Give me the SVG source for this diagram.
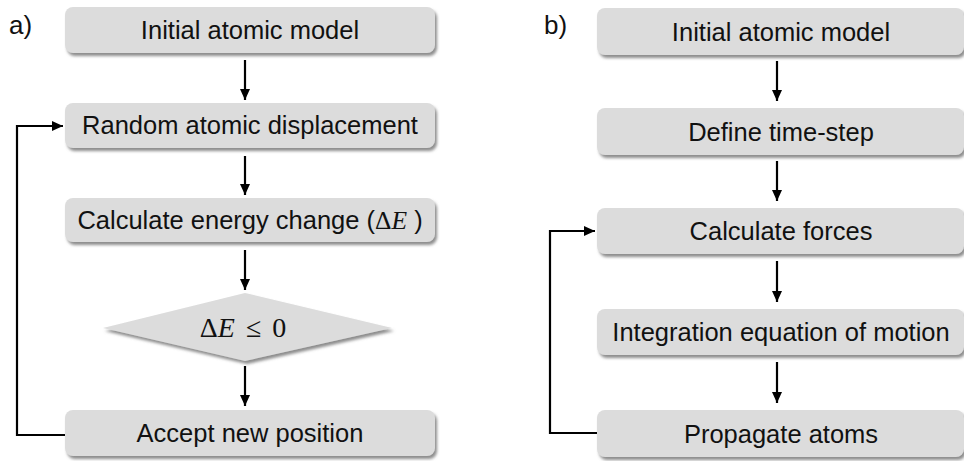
<svg xmlns="http://www.w3.org/2000/svg" width="964" height="461" viewBox="0 0 964 461">
<style>
.box{fill:#dcdcdc;filter:url(#sh)}
.t{font-family:"Liberation Sans",Arial,sans-serif;font-size:25.5px;fill:#111;text-anchor:middle}
.lbl{font-family:"Liberation Sans",Arial,sans-serif;font-size:26px;fill:#111}
.m{font-family:"Liberation Serif","DejaVu Serif",serif}
.c{fill:none;stroke:#000;stroke-width:2.2}
</style>
<defs>
<filter id="sh" x="-5%" y="-20%" width="110%" height="150%">
<feDropShadow dx="2" dy="3" stdDeviation="1.5" flood-color="#707070" flood-opacity="0.8"/>
</filter>
<marker id="ah" markerUnits="userSpaceOnUse" markerWidth="12" markerHeight="10" refX="11" refY="5" orient="auto">
<path d="M0,0 L11,5 L0,10 z" fill="#000"/>
</marker>
</defs>
<rect width="964" height="461" fill="#fff"/>
<text class="lbl" x="9" y="34">a)</text>
<text class="lbl" x="544" y="34">b)</text>
<g id="a1"><rect class="box" x="65" y="7" width="370" height="46" rx="8"/><text class="t" x="250" y="39">Initial atomic model</text></g>
<g id="a2"><rect class="box" x="65" y="103" width="370" height="45" rx="8"/><text class="t" x="250" y="134">Random atomic displacement</text></g>
<g id="a3"><rect class="box" x="65" y="198" width="370" height="44" rx="8"/><text class="t" x="250" y="229">Calculate energy change (<tspan class="m">Δ</tspan><tspan class="m" font-style="italic">E</tspan> )</text></g>
<g id="a4"><polygon class="box" points="245,293 392,328 245,361 103,328"/><text class="t m" x="243" y="337" style="font-size:28px;word-spacing:4px">Δ<tspan font-style="italic">E</tspan> ≤ 0</text></g>
<g id="a5"><rect class="box" x="65" y="410" width="370" height="46" rx="8"/><text class="t" x="250" y="442">Accept new position</text></g>
<g id="b1"><rect class="box" x="597" y="8" width="367" height="47" rx="8"/><text class="t" x="781" y="41">Initial atomic model</text></g>
<g id="b2"><rect class="box" x="597" y="108" width="367" height="47" rx="8"/><text class="t" x="781" y="141">Define time-step</text></g>
<g id="b3"><rect class="box" x="597" y="208" width="367" height="46" rx="8"/><text class="t" x="781" y="240">Calculate forces</text></g>
<g id="b4"><rect class="box" x="597" y="309" width="367" height="46" rx="8"/><text class="t" x="781" y="341">Integration equation of motion</text></g>
<g id="b5"><rect class="box" x="597" y="410" width="367" height="47" rx="8"/><text class="t" x="781" y="443">Propagate atoms</text></g>
<g id="connectors">
<line class="c" x1="245" y1="60" x2="245" y2="100" marker-end="url(#ah)"/>
<line class="c" x1="245" y1="156" x2="245" y2="195" marker-end="url(#ah)"/>
<line class="c" x1="245" y1="250" x2="245" y2="290" marker-end="url(#ah)"/>
<line class="c" x1="245" y1="366" x2="245" y2="406" marker-end="url(#ah)"/>
<polyline class="c" points="65,435 17,435 17,126 63,126" marker-end="url(#ah)"/>
<line class="c" x1="777" y1="61" x2="777" y2="101" marker-end="url(#ah)"/>
<line class="c" x1="777" y1="161" x2="777" y2="201" marker-end="url(#ah)"/>
<line class="c" x1="777" y1="261" x2="777" y2="302" marker-end="url(#ah)"/>
<line class="c" x1="777" y1="362" x2="777" y2="403" marker-end="url(#ah)"/>
<polyline class="c" points="597,433 550,433 550,231 595,231" marker-end="url(#ah)"/>
</g>
</svg>
